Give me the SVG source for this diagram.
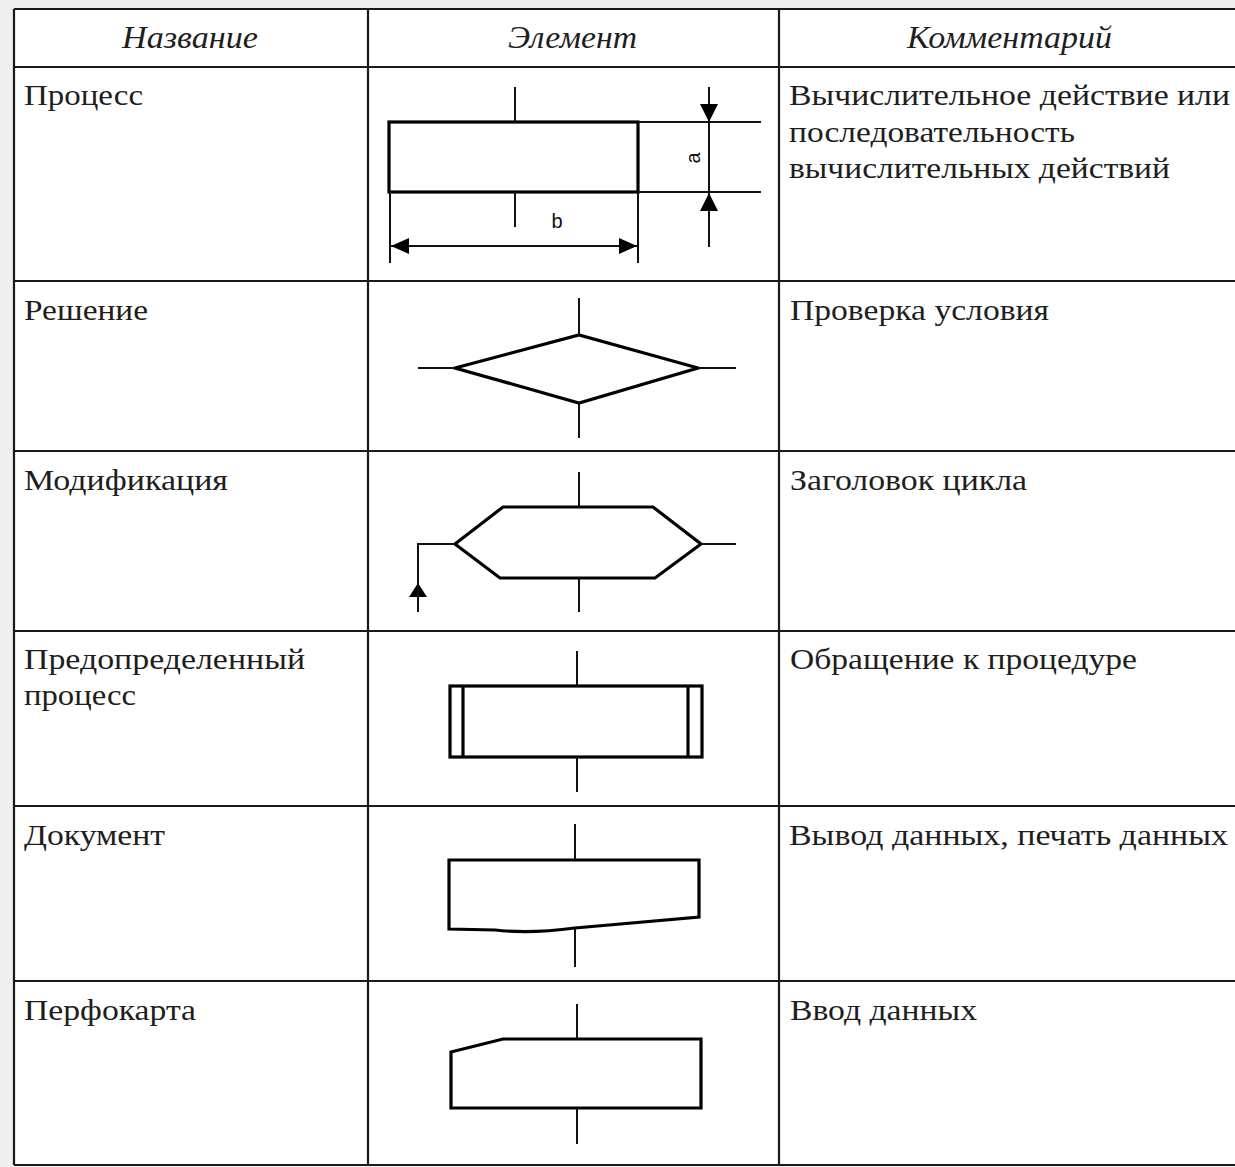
<svg xmlns="http://www.w3.org/2000/svg" width="1235" height="1167" viewBox="0 0 1235 1167">
<defs>
<style>
.grid{stroke:#1a1a1a;stroke-width:2.2;fill:none}
.shape{stroke:#000;stroke-width:3.2;fill:#fff;stroke-linejoin:miter}
.thin{stroke:#111;stroke-width:2;fill:none}
.arr{fill:#000;stroke:none}
.txt{font-family:"Liberation Serif","Times New Roman",serif;font-size:30px;fill:#1e1e1e}
.hdr{font-family:"Liberation Serif","Times New Roman",serif;font-size:31px;font-style:italic;fill:#1e1e1e}
.dim{font-family:"Liberation Sans",Arial,sans-serif;font-size:20px;fill:#111}
</style>
</defs>
<rect x="0" y="0" width="1235" height="1167" fill="#efefef"/>
<rect x="14" y="9" width="1235" height="1156" fill="#fff"/>

<g id="table" class="grid">
<line x1="14" y1="9" x2="1235" y2="9"/>
<line x1="14" y1="67" x2="1235" y2="67"/>
<line x1="14" y1="281" x2="1235" y2="281"/>
<line x1="14" y1="451" x2="1235" y2="451"/>
<line x1="14" y1="631" x2="1235" y2="631"/>
<line x1="14" y1="806" x2="1235" y2="806"/>
<line x1="14" y1="981" x2="1235" y2="981"/>
<line x1="14" y1="1165" x2="1235" y2="1165"/>
<line x1="14" y1="9" x2="14" y2="1165"/>
<line x1="368" y1="9" x2="368" y2="1165"/>
<line x1="779" y1="9" x2="779" y2="1165"/>
</g>

<g id="header">
<text class="hdr" x="122" y="48" textLength="136" lengthAdjust="spacingAndGlyphs">Название</text>
<text class="hdr" x="508" y="48" textLength="129" lengthAdjust="spacingAndGlyphs">Элемент</text>
<text class="hdr" x="907" y="48" textLength="205" lengthAdjust="spacingAndGlyphs">Комментарий</text>
</g>

<g id="row-process">
<text class="txt" x="24" y="105" textLength="119" lengthAdjust="spacingAndGlyphs">Процесс</text>
<rect class="shape" x="389" y="122" width="249" height="70"/>
<line class="thin" x1="709" y1="87" x2="709" y2="247"/>
<line class="thin" x1="638" y1="122" x2="761" y2="122"/>
<line class="thin" x1="638" y1="192" x2="761" y2="192"/>
<polygon class="arr" points="700,104 718,104 709,122"/>
<polygon class="arr" points="700,211 718,211 709,193"/>
<line class="thin" x1="390" y1="192" x2="390" y2="263"/>
<line class="thin" x1="638" y1="192" x2="638" y2="263"/>
<line class="thin" x1="390" y1="246" x2="638" y2="246"/>
<polygon class="arr" points="391,246 409,238 409,254"/>
<polygon class="arr" points="637,246 619,238 619,254"/>
<text class="dim" x="0" y="0" text-anchor="middle" transform="translate(700,158) rotate(-90)">a</text>
<text class="dim" x="557" y="228" text-anchor="middle">b</text>
<text class="txt" x="789" y="105" textLength="441" lengthAdjust="spacingAndGlyphs">Вычислительное действие или</text>
<text class="txt" x="789" y="142" textLength="286" lengthAdjust="spacingAndGlyphs">последовательность</text>
<text class="txt" x="789" y="178" textLength="381" lengthAdjust="spacingAndGlyphs">вычислительных действий</text>
</g>

<g id="row-decision">
<text class="txt" x="24" y="320" textLength="124" lengthAdjust="spacingAndGlyphs">Решение</text>
<polygon class="shape" points="455,368 579,335 698,368 579,403"/>
<text class="txt" x="790" y="320" textLength="259" lengthAdjust="spacingAndGlyphs">Проверка условия</text>
</g>

<g id="row-modification">
<text class="txt" x="24" y="490" textLength="204" lengthAdjust="spacingAndGlyphs">Модификация</text>
<polygon class="shape" points="455,544 503,507 653,507 701,544 655,578 500,578"/>
<polygon class="arr" points="418,583 409,597 427,597"/>
<text class="txt" x="790" y="490" textLength="237" lengthAdjust="spacingAndGlyphs">Заголовок цикла</text>
</g>

<g id="row-predefined">
<text class="txt" x="24" y="669" textLength="281" lengthAdjust="spacingAndGlyphs">Предопределенный</text>
<text class="txt" x="24" y="705" textLength="112" lengthAdjust="spacingAndGlyphs">процесс</text>
<rect class="shape" x="450" y="686" width="252" height="71"/>
<line class="shape" x1="463" y1="686" x2="463" y2="757"/>
<line class="shape" x1="688" y1="686" x2="688" y2="757"/>
<text class="txt" x="790" y="669" textLength="347" lengthAdjust="spacingAndGlyphs">Обращение к процедуре</text>
</g>

<g id="row-document">
<text class="txt" x="24" y="845" textLength="141" lengthAdjust="spacingAndGlyphs">Документ</text>
<path class="shape" d="M449,860 H699 V917 L575,928 Q530,934 495,930 L449,929 Z"/>
<text class="txt" x="789" y="845" textLength="439" lengthAdjust="spacingAndGlyphs">Вывод данных, печать данных</text>
</g>

<g id="row-punchcard">
<text class="txt" x="24" y="1020" textLength="172" lengthAdjust="spacingAndGlyphs">Перфокарта</text>
<path class="shape" d="M451,1052 L503,1039 H701 V1108 H451 Z"/>
<text class="txt" x="790" y="1020" textLength="187" lengthAdjust="spacingAndGlyphs">Ввод данных</text>
</g>

<g id="connectors" class="thin">
<line x1="515" y1="87" x2="515" y2="122"/>
<line x1="515" y1="192" x2="515" y2="227"/>
<line x1="579" y1="298" x2="579" y2="335"/>
<line x1="579" y1="403" x2="579" y2="438"/>
<line x1="418" y1="368" x2="455" y2="368"/>
<line x1="698" y1="368" x2="736" y2="368"/>
<line x1="579" y1="472" x2="579" y2="507"/>
<line x1="579" y1="578" x2="579" y2="612"/>
<line x1="701" y1="544" x2="736" y2="544"/>
<polyline points="455,544 418,544 418,612"/>
<line x1="577" y1="651" x2="577" y2="686"/>
<line x1="577" y1="757" x2="577" y2="792"/>
<line x1="575" y1="824" x2="575" y2="860"/>
<line x1="575" y1="929" x2="575" y2="967"/>
<line x1="577" y1="1004" x2="577" y2="1039"/>
<line x1="577" y1="1108" x2="577" y2="1144"/>
</g>
</svg>
